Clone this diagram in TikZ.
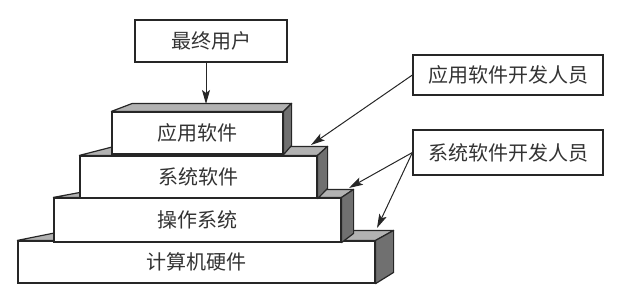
\documentclass[tikz,border=0pt]{standalone}
\usepackage{fontspec}
\newfontfamily\cjk{Noto Sans CJK SC}
\usetikzlibrary{arrows.meta}

\tikzset{
  layer/.style={draw=black!85, line width=1.2pt, fill=white, inner sep=0pt,
    font=\cjk\fontsize{20}{23}\selectfont, text=black!80},
  topface/.style={draw=black!85, line width=1.2pt, fill=gray!60, line join=round},
  sideface/.style={draw=black!85, line width=1.2pt, fill=black!56, line join=round},
  tag/.style={draw=black!85, line width=1.2pt, fill=white, inner sep=0pt,
    minimum width=190pt, font=\cjk\fontsize{20}{23}\selectfont, text=black!80},
  pointer/.style={-{Stealth[length=14pt,width=8pt,inset=3pt]}, line width=1pt, black!85}
}

\begin{document}
\begin{tikzpicture}[x=1pt, y=-1pt]
    \useasboundingbox (0,0) rectangle (628,303);

    % 计算机硬件（最底层）
    \node[layer, minimum width=357pt, minimum height=42pt] (hw) at (196.5,262) {计算机硬件};
    \draw[topface] (hw.north west) -- (hw.north east) -- ++(18,-10)
        -- ([shift={(50,-10)}]hw.north west) -- cycle;
    \draw[sideface] (hw.north east) -- ++(18,-10) -- ++(0,42) -- (hw.south east) -- cycle;

    % 操作系统
    \node[layer, minimum width=287pt, minimum height=44pt] (os) at (197.5,220) {操作系统};
    \draw[topface] (os.north west) -- (os.north east) -- ++(12,-8)
        -- ([shift={(43,-8)}]os.north west) -- cycle;
    \draw[sideface] (os.north east) -- ++(12,-8) -- ++(0,44) -- (os.south east) -- cycle;

    % 系统软件
    \node[layer, minimum width=237pt, minimum height=42pt] (sys) at (198.5,177) {系统软件};
    \draw[topface] (sys.north west) -- (sys.north east) -- ++(10,-9)
        -- ([shift={(35,-9)}]sys.north west) -- cycle;
    \draw[sideface] (sys.north east) -- ++(10,-9) -- ++(0,42) -- (sys.south east) -- cycle;

    % 应用软件（最上层）
    \node[layer, minimum width=171pt, minimum height=42pt] (app) at (197.5,133) {应用软件};
    \draw[topface] (app.north west) -- (app.north east) -- ++(8,-8)
        -- ([shift={(21,-8)}]app.north west) -- cycle;
    \draw[sideface] (app.north east) -- ++(8,-8) -- ++(0,42) -- (app.south east) -- cycle;

    % 最终用户
    \node[layer, minimum width=152pt, minimum height=42pt] (user) at (211,41) {最终用户};
    \coordinate (app-back) at (206,104);
    \draw[pointer] (user.south -| app-back) -- (app-back);

    % 开发人员
    \node[tag, minimum height=40pt] (appdev) at (508,75) {应用软件开发人员};
    \node[tag, minimum height=45pt] (sysdev) at (508,152.5) {系统软件开发人员};

    % 箭头落点
    \coordinate (sys-top) at (311,145);
    \coordinate (os-top) at (349,188);
    \coordinate (hw-top) at (377,228);

    \draw[pointer] (appdev.west) -- (sys-top);
    \draw[pointer] (sysdev.west) -- (os-top);
    \draw[pointer] (sysdev.west) -- (hw-top);
\end{tikzpicture}
\end{document}
